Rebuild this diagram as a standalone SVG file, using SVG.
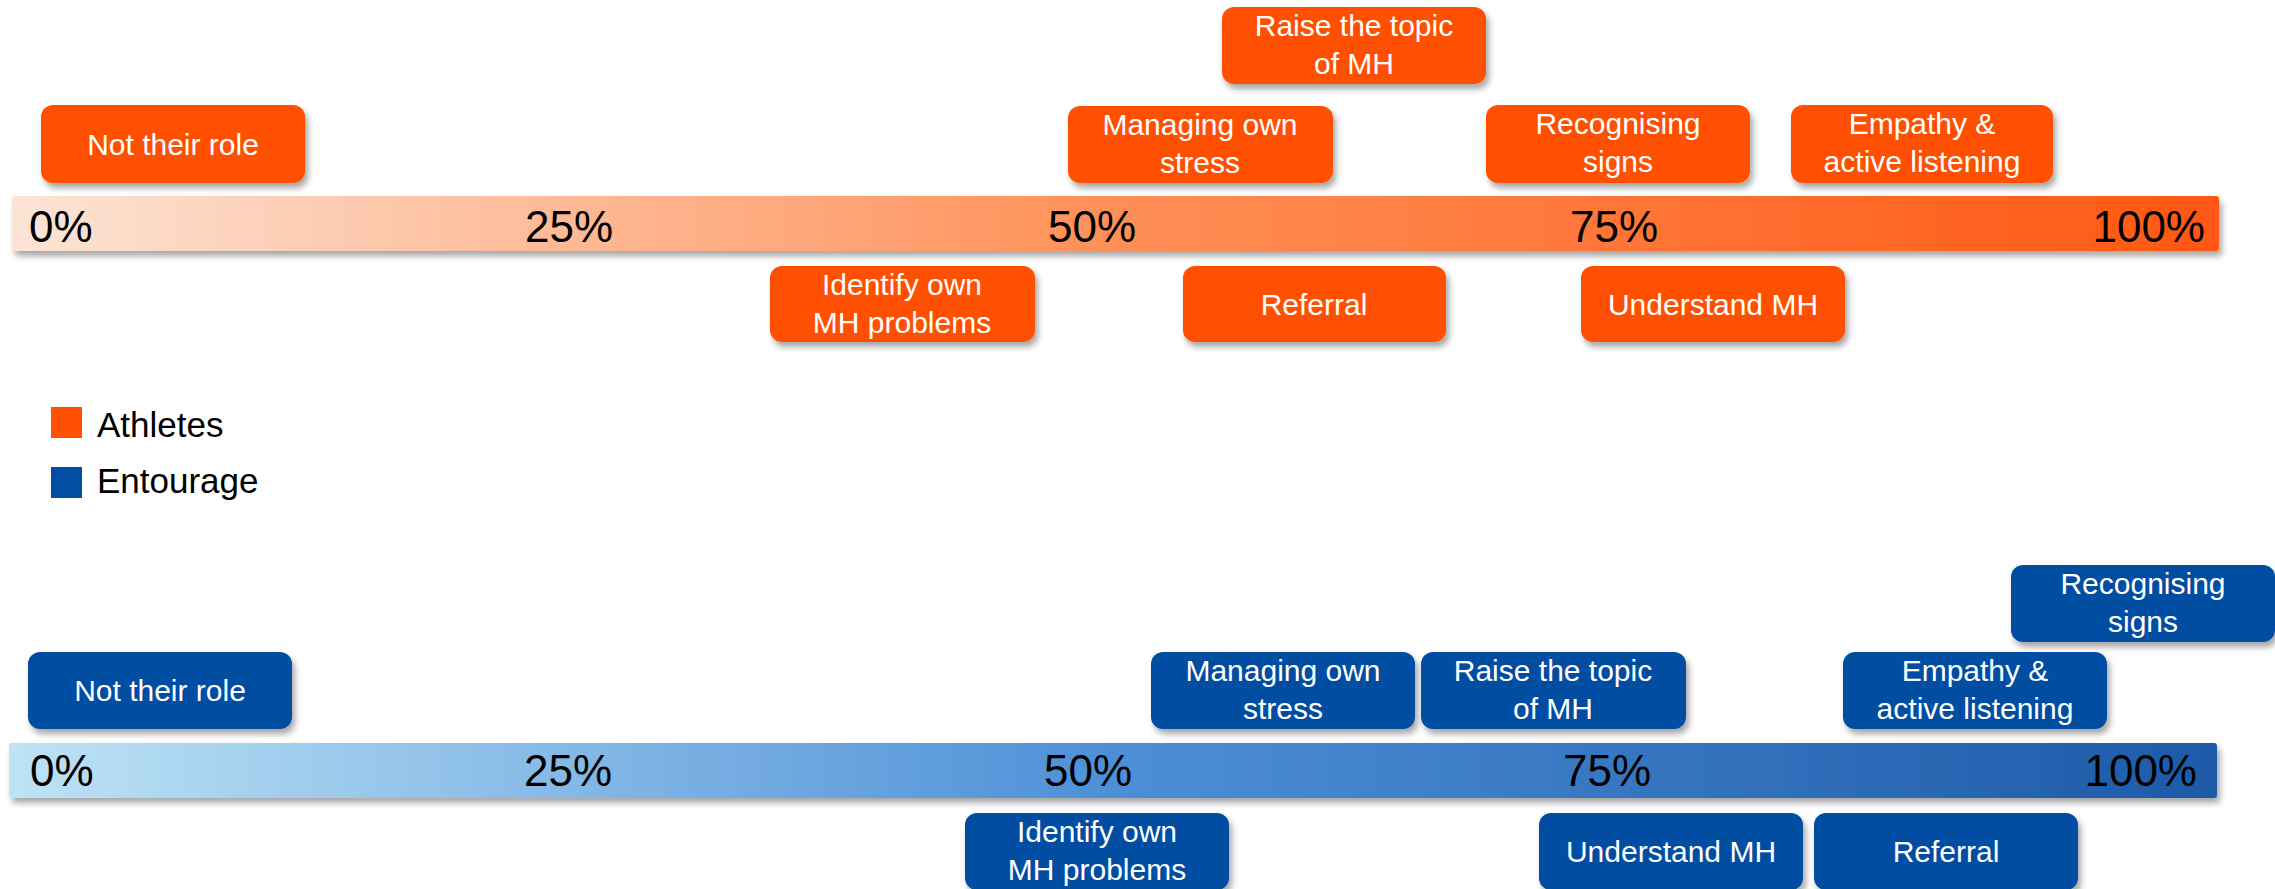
<svg xmlns="http://www.w3.org/2000/svg" width="2275" height="889" viewBox="0 0 2275 889">
<defs>
<linearGradient id="gOrange" x1="0" y1="0" x2="1" y2="0">
<stop offset="0" stop-color="#FCE4D6"/>
<stop offset="0.5" stop-color="#FF8F57"/>
<stop offset="1" stop-color="#FF5712"/>
</linearGradient>
<linearGradient id="gBlue" x1="0" y1="0" x2="1" y2="0">
<stop offset="0" stop-color="#BEE3F5"/>
<stop offset="0.5" stop-color="#4D8FD7"/>
<stop offset="1" stop-color="#1D5AA8"/>
</linearGradient>
<filter id="sh" x="-10%" y="-20%" width="125%" height="160%">
<feDropShadow dx="3" dy="5" stdDeviation="3" flood-color="#000" flood-opacity="0.35"/>
</filter>
</defs>
<style>
.ob{fill:#FF5005;filter:url(#sh)}
.bb{fill:#034EA2;filter:url(#sh)}
.bt{font-family:"Liberation Sans",Arial,sans-serif;font-size:30px;fill:#fff;text-anchor:middle}
.pct{font-family:"Liberation Sans",Arial,sans-serif;font-size:44px;fill:#000}
.leg{font-family:"Liberation Sans",Arial,sans-serif;font-size:35px;fill:#000}
</style>
<rect width="2275" height="889" fill="#fff"/>

<g id="bar-athletes">
<rect x="12" y="196" width="2207" height="55" rx="3" fill="url(#gOrange)" filter="url(#sh)"/>
<text class="pct" x="29" y="242">0%</text>
<text class="pct" x="569" y="242" text-anchor="middle">25%</text>
<text class="pct" x="1092" y="242" text-anchor="middle">50%</text>
<text class="pct" x="1614" y="242" text-anchor="middle">75%</text>
<text class="pct" x="2205" y="242" text-anchor="end">100%</text>
</g>

<g id="a-not-their-role"><rect class="ob" x="41" y="105" width="264" height="78" rx="12"/><text class="bt" x="173" y="155">Not their role</text></g>
<g id="a-raise-topic"><rect class="ob" x="1222" y="7" width="264" height="77" rx="12"/><text class="bt" x="1354" y="36">Raise the topic</text><text class="bt" x="1354" y="74">of MH</text></g>
<g id="a-managing-stress"><rect class="ob" x="1068" y="106" width="265" height="77" rx="12"/><text class="bt" x="1200" y="135">Managing own</text><text class="bt" x="1200" y="173">stress</text></g>
<g id="a-recognising"><rect class="ob" x="1486" y="105" width="264" height="78" rx="12"/><text class="bt" x="1618" y="134">Recognising</text><text class="bt" x="1618" y="172">signs</text></g>
<g id="a-empathy"><rect class="ob" x="1791" y="105" width="262" height="78" rx="12"/><text class="bt" x="1922" y="134">Empathy &amp;</text><text class="bt" x="1922" y="172">active listening</text></g>
<g id="a-identify"><rect class="ob" x="770" y="266" width="265" height="76" rx="12"/><text class="bt" x="902" y="295">Identify own</text><text class="bt" x="902" y="333">MH problems</text></g>
<g id="a-referral"><rect class="ob" x="1183" y="266" width="263" height="76" rx="12"/><text class="bt" x="1314" y="315">Referral</text></g>
<g id="a-understand"><rect class="ob" x="1581" y="266" width="264" height="76" rx="12"/><text class="bt" x="1713" y="315">Understand MH</text></g>

<g id="legend">
<rect x="51" y="407" width="31" height="31" fill="#FF5005"/>
<text class="leg" x="97" y="437">Athletes</text>
<rect x="51" y="467" width="31" height="31" fill="#034EA2"/>
<text class="leg" x="97" y="493">Entourage</text>
</g>

<g id="bar-entourage">
<rect x="9" y="743" width="2208" height="55" rx="3" fill="url(#gBlue)" filter="url(#sh)"/>
<text class="pct" x="30" y="786">0%</text>
<text class="pct" x="568" y="786" text-anchor="middle">25%</text>
<text class="pct" x="1088" y="786" text-anchor="middle">50%</text>
<text class="pct" x="1607" y="786" text-anchor="middle">75%</text>
<text class="pct" x="2197" y="786" text-anchor="end">100%</text>
</g>

<g id="e-not-their-role"><rect class="bb" x="28" y="652" width="264" height="77" rx="12"/><text class="bt" x="160" y="701">Not their role</text></g>
<g id="e-managing-stress"><rect class="bb" x="1151" y="652" width="264" height="77" rx="12"/><text class="bt" x="1283" y="681">Managing own</text><text class="bt" x="1283" y="719">stress</text></g>
<g id="e-raise-topic"><rect class="bb" x="1421" y="652" width="265" height="77" rx="12"/><text class="bt" x="1553" y="681">Raise the topic</text><text class="bt" x="1553" y="719">of MH</text></g>
<g id="e-empathy"><rect class="bb" x="1843" y="652" width="264" height="77" rx="12"/><text class="bt" x="1975" y="681">Empathy &amp;</text><text class="bt" x="1975" y="719">active listening</text></g>
<g id="e-recognising"><rect class="bb" x="2011" y="565" width="264" height="77" rx="12"/><text class="bt" x="2143" y="594">Recognising</text><text class="bt" x="2143" y="632">signs</text></g>
<g id="e-identify"><rect class="bb" x="965" y="813" width="264" height="77" rx="12"/><text class="bt" x="1097" y="842">Identify own</text><text class="bt" x="1097" y="880">MH problems</text></g>
<g id="e-understand"><rect class="bb" x="1539" y="813" width="264" height="77" rx="12"/><text class="bt" x="1671" y="862">Understand MH</text></g>
<g id="e-referral"><rect class="bb" x="1814" y="813" width="264" height="77" rx="12"/><text class="bt" x="1946" y="862">Referral</text></g>

<g id="connectors"></g>
</svg>
